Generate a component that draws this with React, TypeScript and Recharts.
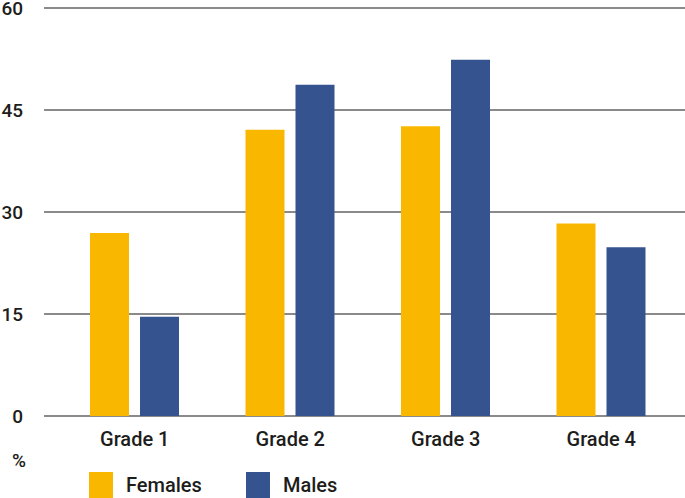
import React from "react";
import { BarChart, Bar, XAxis, YAxis, CartesianGrid, Legend, Label } from "recharts";

const categories = ["Grade 1", "Grade 2", "Grade 3", "Grade 4"];
const females = [26.9, 42.1, 42.6, 28.3];
const males = [14.6, 48.7, 52.4, 24.8];
const yTicks = [0, 15, 30, 45, 60];
const seriesNames = ["Females", "Males"];
const colors = ["#F9B700", "#34538F"];

const data = categories.map((c, i) => ({ name: c, Females: females[i], Males: males[i] }));

const FONT = "Roboto, 'Noto Sans', sans-serif";
const TEXT = "#1d1d1b";

const LegendContent = (props: any) => {
  const payload = props.payload || [];
  return (
    <div style={{ position: "relative", height: 0, width: 685, overflow: "visible" }}>
      {payload.map((p: any, i: number) => (
        <div
          key={p.value}
          style={{
            position: "absolute",
            left: 89 + i * 157,
            top: 0,
            display: "flex",
            alignItems: "center",
            fontFamily: FONT,
            fontWeight: 500,
            fontSize: 20,
            color: TEXT,
          }}
        >
          <span style={{ width: 24, height: 26, background: p.color, display: "inline-block" }} />
          <span style={{ marginLeft: 13 }}>{p.value}</span>
        </div>
      ))}
    </div>
  );
};

export default function App() {
  return (
    <div style={{ position: "absolute", left: 0, top: 0, width: 685, height: 498, background: "#fff" }}>
      <BarChart
        width={685}
        height={498}
        data={data}
        margin={{ top: 8, right: 0, bottom: 42, left: 0 }}
        barCategoryGap={33}
        barGap={11}
      >
        <CartesianGrid vertical={false} stroke="#8a8a8a" strokeWidth={2} />
        <XAxis
          dataKey="name"
          axisLine={false}
          tickLine={false}
          padding={{ left: 13, right: 6 }}
          tick={{ fill: TEXT, fontSize: 20, fontFamily: FONT, fontWeight: 500 }}
          tickMargin={10}
          height={40}
        />
        <YAxis
          domain={[0, 60]}
          ticks={yTicks}
          axisLine={false}
          tickLine={false}
          tickSize={0}
          tickMargin={21}
          width={44}
          interval={0}
          tick={{ fill: TEXT, fontSize: 19, fontFamily: FONT, fontWeight: 500 }}
        >
          <Label
            content={() => (
              <text x={12} y={467} fill={TEXT} fontSize={19} fontFamily={FONT} fontWeight={500}>
                %
              </text>
            )}
          />
        </YAxis>
        <Legend
          verticalAlign="bottom"
          align="left"
          content={<LegendContent />}
          wrapperStyle={{ position: "absolute", left: 0, top: 472, width: 685, height: 0 }}
        />
        <Bar dataKey={seriesNames[0]} fill={colors[0]} barSize={39} isAnimationActive={false} />
        <Bar dataKey={seriesNames[1]} fill={colors[1]} barSize={39} isAnimationActive={false} />
      </BarChart>
    </div>
  );
}
